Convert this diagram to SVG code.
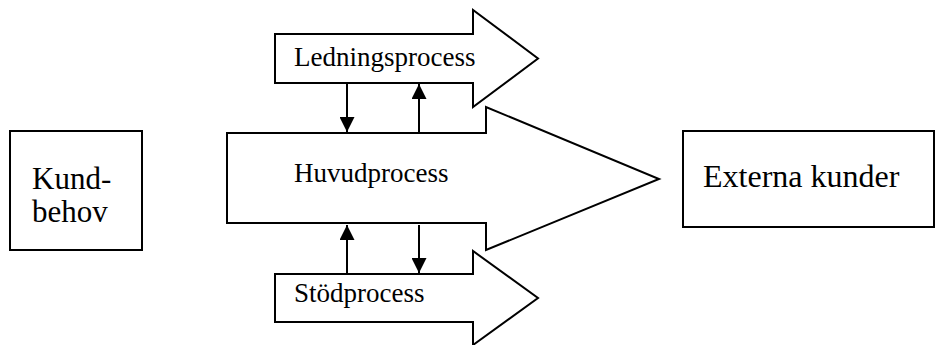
<svg xmlns="http://www.w3.org/2000/svg" width="936" height="345" viewBox="0 0 936 345">
  <style>
    .shape { fill: #ffffff; stroke: #000000; stroke-width: 2; stroke-linejoin: miter; }
    .label { font-family: "Liberation Serif", "Times New Roman", serif; fill: #000000; }
    .proc { font-size: 27px; }
    .big { font-size: 31px; }
    .ext { font-size: 32px; }
    .link { stroke: #000000; stroke-width: 2; fill: none; marker-end: url(#head); }
  </style>
  <defs>
    <marker id="head" markerUnits="userSpaceOnUse" markerWidth="15" markerHeight="15" refX="15" refY="7.5" orient="auto">
      <path d="M0,0 L15,7.5 L0,15 Z" fill="#000000"/>
    </marker>
  </defs>
  <rect width="936" height="345" fill="#ffffff"/>

  <g id="kundbehov">
    <rect class="shape" x="10" y="131" width="132" height="119"/>
    <text class="label big" x="32" y="189">Kund-</text>
    <text class="label big" x="32" y="222">behov</text>
  </g>

  <g id="externa-kunder">
    <rect class="shape" x="683" y="131" width="251" height="96"/>
    <text class="label ext" x="703" y="187">Externa kunder</text>
  </g>

  <g id="huvudprocess">
    <polygon class="shape" points="227,133 486,133 486,107 659,179 486,250 486,223 227,223"/>
    <text class="label proc" x="294" y="182">Huvudprocess</text>
  </g>

  <g id="ledningsprocess">
    <polygon class="shape" points="275,34 473,34 473,10 538,58.5 473,107 473,83 275,83"/>
    <text class="label proc" x="294" y="66">Ledningsprocess</text>
  </g>

  <g id="stodprocess">
    <polygon class="shape" points="275,274 473,274 473,251 538,298 473,345 473,322 275,322"/>
    <text class="label proc" x="294" y="302">Stödprocess</text>
  </g>

  <g id="connectors">
    <line class="link" x1="347" y1="84" x2="347" y2="132"/>
    <line class="link" x1="419" y1="132" x2="419" y2="84"/>
    <line class="link" x1="347" y1="273" x2="347" y2="225"/>
    <line class="link" x1="419" y1="225" x2="419" y2="273"/>
  </g>
</svg>
